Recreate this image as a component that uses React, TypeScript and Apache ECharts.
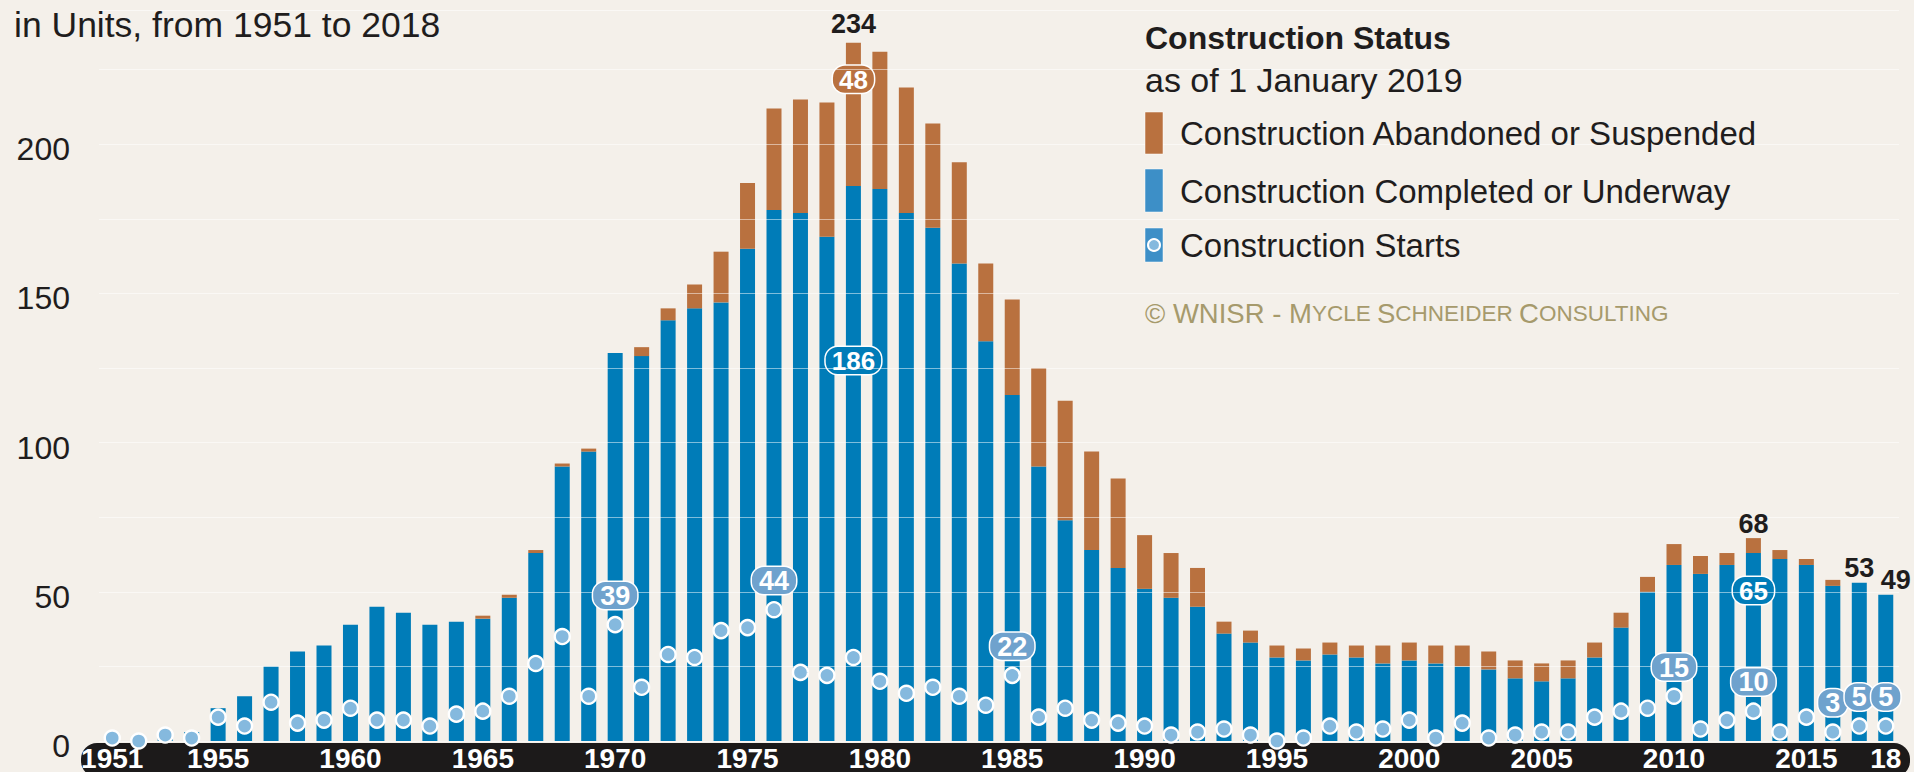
import React, { useEffect, useRef } from "react";
import * as echarts from "echarts";

// ---------- data ----------
const years: number[] = [
  1951, 1952, 1953, 1954, 1955, 1956, 1957, 1958, 1959, 1960,
  1961, 1962, 1963, 1964, 1965, 1966, 1967, 1968, 1969, 1970,
  1971, 1972, 1973, 1974, 1975, 1976, 1977, 1978, 1979, 1980,
  1981, 1982, 1983, 1984, 1985, 1986, 1987, 1988, 1989, 1990,
  1991, 1992, 1993, 1994, 1995, 1996, 1997, 1998, 1999, 2000,
  2001, 2002, 2003, 2004, 2005, 2006, 2007, 2008, 2009, 2010,
  2011, 2012, 2013, 2014, 2015, 2016, 2017, 2018,
];

// Construction Completed or Underway
const completed: number[] = [
  1, 1, 3, 3, 11, 15, 25, 30, 32, 39,
  45, 43, 39, 40, 41, 48, 63, 92, 97, 130,
  129, 141, 145, 147, 165, 178, 177, 169, 186, 185,
  177, 172, 160, 134, 116, 92, 74, 64, 58, 51,
  48, 45, 36, 33, 28, 27, 29, 28, 26, 27,
  26, 25, 24, 21, 20, 21, 28, 38, 50, 59,
  56, 59, 63, 61, 59, 52, 53, 49,
];

// Construction Abandoned or Suspended
const abandoned: number[] = [
  0, 0, 0, 0, 0, 0, 0, 0, 0, 0,
  0, 0, 0, 0, 1, 1, 1, 1, 1, 0,
  3, 4, 8, 17, 22, 34, 38, 45, 48, 46,
  42, 35, 34, 26, 32, 33, 40, 33, 30, 18,
  15, 13, 4, 4, 4, 4, 4, 4, 6, 6,
  6, 7, 6, 6, 6, 6, 5, 5, 5, 7,
  6, 4, 5, 3, 2, 2, 0, 0,
];

// Construction Starts
const starts: number[] = [
  1, 0, 2, 1, 8, 5, 13, 6, 7, 11,
  7, 7, 5, 9, 10, 15, 26, 35, 15, 39,
  18, 29, 28, 37, 38, 44, 23, 22, 28, 20,
  16, 18, 15, 12, 22, 8, 11, 7, 6, 5,
  2, 3, 4, 2, 0, 1, 5, 3, 4, 7,
  1, 6, 1, 2, 3, 3, 8, 10, 11, 15,
  4, 7, 10, 3, 8, 3, 5, 5,
];

const yTickLabels: number[] = [0, 50, 100, 150, 200];
const xTickYears: number[] = [1951, 1955, 1960, 1965, 1970, 1975, 1980, 1985, 1990, 1995, 2000, 2005, 2010, 2015, 2018];
const xTickLabels: string[] = ["1951", "1955", "1960", "1965", "1970", "1975", "1980", "1985", "1990", "1995", "2000", "2005", "2010", "2015", "18"];

const totalLabelYears: number[] = [1979, 2013, 2017, 2018];
const startLabelYears: number[] = [1970, 1976, 1985, 2010, 2013, 2016, 2017, 2018];
const completedCalloutYears: number[] = [1979, 2013];
const completedCalloutTexts: string[] = ["186", "65"];
const abandonedCalloutYears: number[] = [1979];
const abandonedCalloutTexts: string[] = ["48"];

// ---------- styles ----------
const FONT = "'Liberation Sans', Arial, sans-serif";
const BG = "#f4f0ea";
const BLUE = "#007cb8";
const BLUE_LEGEND = "#3d8fc7";
const ORANGE = "#b9713f";
const DOT = "#85b9de";
const PILL = "#6fa2cd";
const BAND = "#1c1a1a";
const INK = "#1f1d1d";
const COPY = "#a69a6c";

// label placement styling (pixel distances from the bar's top edge)
const completedCalloutDistance: Record<number, number> = { 1979: 161, 2013: 24 };
const abandonedCalloutDistance: Record<number, number> = { 1979: 23 };
const totalLabelDistance: Record<number, number> = { 1979: 5, 2013: 1, 2017: 1, 2018: 1 };
const totalLabelOffset: Record<number, number[]> = { 2018: [10, 0] };

const pill = (bg: string, size: number, padX: number) => ({
  show: true,
  color: "#fff",
  fontFamily: FONT,
  fontWeight: "bold" as const,
  fontSize: size,
  lineHeight: 24,
  backgroundColor: bg,
  borderColor: "#fff",
  borderWidth: 1.5,
  borderRadius: 12,
  padding: [2, padX, 1, padX],
});

function buildOption(): any {
  const cats = years.map(String);

  const completedData = completed.map((v, i) => {
    const k = completedCalloutYears.indexOf(years[i]);
    if (k < 0) return v;
    return {
      value: v,
      label: {
        ...pill(BLUE, 26, 6),
        position: "insideTop",
        distance: completedCalloutDistance[years[i]],
        formatter: completedCalloutTexts[k],
      },
    };
  });

  const abandonedData = abandoned.map((v, i) => {
    const y = years[i];
    const k = abandonedCalloutYears.indexOf(y);
    if (k < 0) return v;
    return {
      value: v,
      label: {
        ...pill(ORANGE, 26, 6),
        position: "insideTop",
        distance: abandonedCalloutDistance[y],
        formatter: abandonedCalloutTexts[k],
      },
    };
  });

  // total labels on an invisible stacked series sitting on top
  const totalData = years.map((y, i) => {
    if (totalLabelYears.indexOf(y) < 0) return 0;
    return {
      value: 0,
      label: {
        show: true,
        position: "top",
        distance: totalLabelDistance[y],
        offset: totalLabelOffset[y] || [0, 0],
        formatter: String(completed[i] + abandoned[i]),
        color: INK,
        fontFamily: FONT,
        fontWeight: "bold",
        fontSize: 27,
      },
    };
  });

  const startsData = starts.map((v, i) => {
    if (startLabelYears.indexOf(years[i]) < 0) return v;
    return {
      value: v,
      label: { ...pill(PILL, 27, 7), position: "top", distance: 7, formatter: String(v) },
    };
  });

  const txt = (x: number, y: number, text: string, size: number, extra: any = {}) => ({
    type: "text",
    x,
    y,
    silent: true,
    z: 10,
    style: {
      text,
      fontSize: size,
      fontFamily: FONT,
      fill: INK,
      textAlign: "left",
      textVerticalAlign: "middle",
      align: "left",
      verticalAlign: "middle",
      ...extra,
    },
  });

  return {
    animation: false,
    backgroundColor: BG,
    textStyle: { fontFamily: FONT },
    grid: { left: 99, right: 15, top: 10, bottom: 27, containLabel: false },
    xAxis: {
      type: "category",
      data: cats,
      z: 6,
      axisLine: { show: false },
      axisTick: { show: false },
      axisLabel: {
        interval: (_idx: number, value: string) => xTickYears.indexOf(Number(value)) >= 0,
        formatter: (value: string) => xTickLabels[xTickYears.indexOf(Number(value))] ?? "",
        color: "#fff",
        fontWeight: "bold",
        fontSize: 28,
        fontFamily: FONT,
        margin: 3,
      },
    },
    yAxis: [
      {
        type: "value",
        min: 0,
        max: 245,
        interval: 50,
        axisLine: { show: false },
        axisTick: { show: false },
        splitLine: { show: false },
        axisLabel: {
          showMaxLabel: false,
          color: INK,
          fontSize: 32,
          fontFamily: FONT,
          margin: 29,
          verticalAlign: "top",
          lineHeight: 10,
          formatter: (v: number) => (yTickLabels.indexOf(v) >= 0 ? String(v) : ""),
        },
      },
      {
        type: "value",
        min: 0,
        max: 245,
        interval: 25,
        z: 3,
        axisLine: { show: false },
        axisTick: { show: false },
        axisLabel: { show: false },
        splitLine: { show: true, lineStyle: { color: "rgba(255,255,255,0.5)", width: 1 } },
      },
    ],
    graphic: {
      elements: [
        {
          type: "rect",
          z: 3,
          silent: true,
          shape: { x: 81, y: 743, width: 1829, height: 34, r: 16 },
          style: { fill: BAND },
        },
        txt(14, 25, "in Units, from 1951 to 2018", 35.5),
        txt(1145, 38, "Construction Status", 32, { fontWeight: "bold" }),
        txt(1145, 80, "as of 1 January 2019", 34),
        {
          type: "rect", z: 10, silent: true,
          shape: { x: 1145, y: 112, width: 18, height: 42 },
          style: { fill: ORANGE, stroke: "rgba(255,255,255,0.5)", lineWidth: 1 },
        },
        txt(1180, 133, "Construction Abandoned or Suspended", 33),
        {
          type: "rect", z: 10, silent: true,
          shape: { x: 1145, y: 169, width: 18, height: 43 },
          style: { fill: BLUE_LEGEND, stroke: "rgba(255,255,255,0.5)", lineWidth: 1 },
        },
        txt(1180, 191, "Construction Completed or Underway", 33),
        {
          type: "rect", z: 10, silent: true,
          shape: { x: 1145, y: 228, width: 18, height: 34 },
          style: { fill: BLUE_LEGEND, stroke: "rgba(255,255,255,0.5)", lineWidth: 1 },
        },
        {
          type: "circle", z: 11, silent: true,
          shape: { cx: 1154, cy: 245, r: 6 },
          style: { fill: DOT, stroke: "#fff", lineWidth: 2 },
        },
        txt(1180, 245, "Construction Starts", 33),
        {
          type: "text",
          x: 1145,
          y: 313,
          z: 10,
          silent: true,
          style: {
            text: "{a|© WNISR - M}{b|YCLE }{a|S}{b|CHNEIDER }{a|C}{b|ONSULTING}",
            fontFamily: FONT,
            fill: COPY,
            textVerticalAlign: "middle",
            verticalAlign: "middle",
            rich: {
              a: { fontSize: 27.5, fontFamily: FONT, fill: COPY, color: COPY },
              b: { fontSize: 22.5, fontFamily: FONT, fill: COPY, color: COPY },
            },
          },
        },
      ],
    },
    series: [
      {
        name: "Construction Completed or Underway",
        type: "bar",
        stack: "units",
        barWidth: 15,
        z: 2,
        itemStyle: { color: BLUE },
        data: completedData,
      },
      {
        name: "Construction Abandoned or Suspended",
        type: "bar",
        stack: "units",
        barWidth: 15,
        z: 2,
        itemStyle: { color: ORANGE },
        data: abandonedData,
      },
      {
        name: "totals",
        type: "bar",
        stack: "units",
        barWidth: 15,
        z: 7,
        itemStyle: { color: "rgba(0,0,0,0)" },
        data: totalData,
      },
      {
        name: "Construction Starts",
        type: "scatter",
        z: 5,
        symbol: "circle",
        symbolSize: 15,
        itemStyle: { color: DOT, borderColor: "#fff", borderWidth: 2.4, opacity: 1 },
        label: { show: false },
        data: startsData,
      },
    ],
  };
}

export default function App() {
  const ref = useRef<HTMLDivElement>(null);
  useEffect(() => {
    if (!ref.current) return;
    const chart = echarts.init(ref.current, null, { renderer: "svg" });
    chart.setOption(buildOption());
    return () => chart.dispose();
  }, []);
  return (
    <div
      ref={ref}
      style={{ position: "fixed", left: 0, top: 0, width: 1914, height: 772, background: BG }}
    />
  );
}
